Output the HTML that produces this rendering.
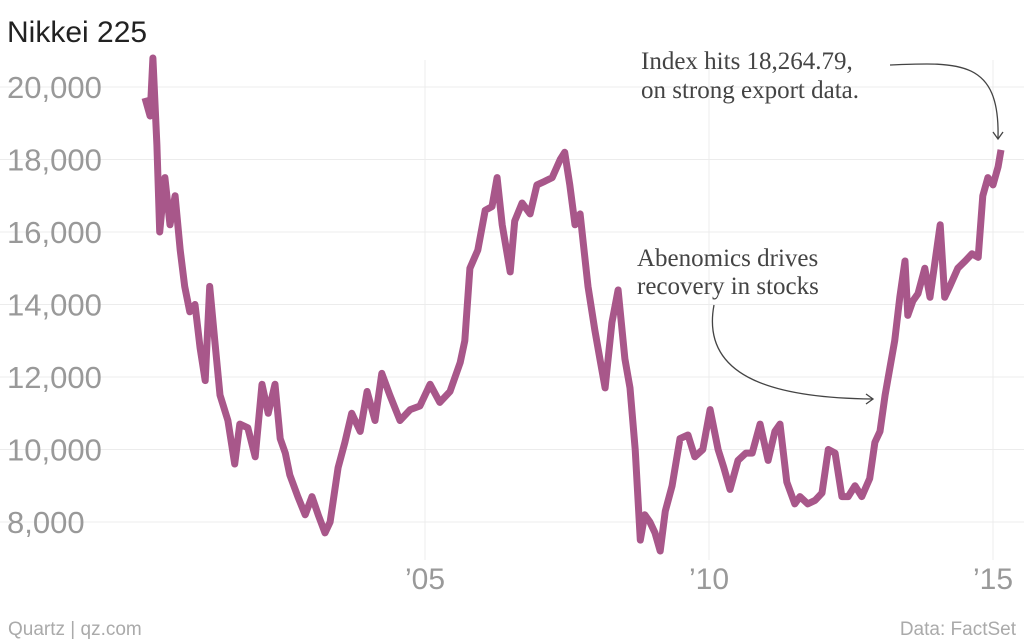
<!DOCTYPE html>
<html><head><meta charset="utf-8"><style>
body{margin:0;background:#fff;}
svg{display:block;}
</style></head><body>
<svg id="chart" width="1024" height="640" xmlns="http://www.w3.org/2000/svg">
<text x="7" y="42" font-family="Liberation Sans, sans-serif" font-size="30" fill="#222">Nikkei 225</text>
<g id="grid"></g>
<g id="yticks"></g>
<g id="xticks"></g>
<path id="line" fill="none" stroke="#a8578a" stroke-width="7" stroke-linejoin="round"/>
<g font-family="Liberation Serif, serif" font-size="25" fill="#444">
<text x="641" y="69">Index hits 18,264.79,</text>
<text x="641" y="98">on strong export data.</text>
<path d="M890 65 C 960 62, 1000 60, 998 138" fill="none" stroke="#444" stroke-width="1.3"/>
<path d="M993 132 L998 139 L1003 132" fill="none" stroke="#444" stroke-width="1.3"/>
</g>
<g font-family="Liberation Serif, serif" font-size="25" fill="#444">
<text x="637" y="266">Abenomics drives</text>
<text x="637" y="294">recovery in stocks</text>
<path d="M714 305 C 700 380, 780 398, 872 399" fill="none" stroke="#444" stroke-width="1.3"/>
<path d="M866 394 L873 399 L866 404" fill="none" stroke="#444" stroke-width="1.3"/>
</g>
<text x="8" y="635" font-family="Liberation Sans, sans-serif" font-size="19" fill="#aaa">Quartz | qz.com</text>
<text x="1016" y="635" text-anchor="end" font-family="Liberation Sans, sans-serif" font-size="19" fill="#aaa">Data: FactSet</text>
</svg>
<script>
const yTicks=[8000,10000,12000,14000,16000,18000,20000];
const yTickLabels=["8,000","10,000","12,000","14,000","16,000","18,000","20,000"];
const xTicks=[2005,2010,2015];
const xTickLabels=["’05","’10","’15"];
const years=[2000.07,2000.16,2000.21,2000.28,2000.33,2000.42,2000.51,2000.60,2000.69,2000.77,2000.86,2000.95,2001.04,2001.13,2001.21,2001.30,2001.39,2001.53,2001.65,2001.74,2001.88,2002.01,2002.13,2002.24,2002.36,2002.45,2002.54,2002.62,2002.76,2002.89,2003.01,2003.12,2003.24,2003.33,2003.47,2003.59,2003.71,2003.86,2003.98,2004.12,2004.24,2004.38,2004.56,2004.74,2004.91,2005.09,2005.26,2005.44,2005.62,2005.70,2005.79,2005.93,2006.06,2006.18,2006.27,2006.36,2006.50,2006.58,2006.71,2006.85,2006.97,2007.11,2007.24,2007.38,2007.46,2007.55,2007.64,2007.73,2007.87,2007.99,2008.08,2008.17,2008.29,2008.40,2008.52,2008.61,2008.70,2008.79,2008.87,2008.96,2009.05,2009.14,2009.23,2009.35,2009.49,2009.63,2009.75,2009.89,2010.02,2010.16,2010.26,2010.37,2010.51,2010.65,2010.76,2010.90,2011.04,2011.16,2011.25,2011.37,2011.51,2011.60,2011.74,2011.87,2011.99,2012.10,2012.22,2012.34,2012.45,2012.57,2012.69,2012.83,2012.92,2013.01,2013.10,2013.19,2013.27,2013.36,2013.45,2013.50,2013.59,2013.68,2013.80,2013.89,2013.98,2014.07,2014.15,2014.24,2014.38,2014.51,2014.63,2014.74,2014.82,2014.91,2015.00,2015.09,2015.14];
const values=[19700,19200,20800,18400,16000,17500,16200,17000,15500,14500,13800,14000,12800,11900,14500,13000,11500,10800,9600,10700,10600,9800,11800,11000,11800,10300,9900,9300,8700,8200,8700,8200,7700,8000,9500,10200,11000,10500,11600,10800,12100,11500,10800,11100,11200,11800,11300,11600,12400,13000,15000,15500,16600,16700,17500,16200,14900,16300,16800,16500,17300,17400,17500,18000,18200,17300,16200,16500,14500,13300,12500,11700,13500,14400,12500,11700,10000,7500,8200,8000,7700,7200,8300,9000,10300,10400,9800,10000,11100,10000,9500,8900,9700,9900,9900,10700,9700,10500,10700,9100,8500,8700,8500,8600,8800,10000,9900,8700,8700,9000,8700,9200,10200,10500,11500,12300,13000,14200,15200,13700,14100,14300,15000,14200,15200,16200,14200,14500,15000,15200,15400,15300,17000,17500,17300,17800,18264.79];
const xs=y=>141+(y-2000)*56.8;
const ys=v=>522-(v-8000)*0.03625;
const NS="http://www.w3.org/2000/svg";
const grid=document.getElementById('grid'),yg=document.getElementById('yticks'),xg=document.getElementById('xticks');
yTicks.forEach((t,i)=>{
  const l=document.createElementNS(NS,'line');
  l.setAttribute('x1',0);l.setAttribute('x2',1024);l.setAttribute('y1',ys(t));l.setAttribute('y2',ys(t));
  l.setAttribute('stroke','#ececec');l.setAttribute('stroke-width','1');
  
  
  grid.appendChild(l);
  const tx=document.createElementNS(NS,'text');
  tx.setAttribute('x',7);tx.setAttribute('y',ys(t)+11);
  tx.setAttribute('font-family','Liberation Sans, sans-serif');tx.setAttribute('font-size','31');tx.setAttribute('fill','#999');
  tx.textContent=yTickLabels[i];
  
  
  yg.appendChild(tx);
});
xTicks.forEach((t,i)=>{
  const l=document.createElementNS(NS,'line');
  l.setAttribute('x1',xs(t));l.setAttribute('x2',xs(t));l.setAttribute('y1',60);l.setAttribute('y2',560);
  l.setAttribute('stroke','#ececec');l.setAttribute('stroke-width','1');
  
  
  grid.appendChild(l);
  const tx=document.createElementNS(NS,'text');
  tx.setAttribute('x',xs(t));tx.setAttribute('y',589);tx.setAttribute('text-anchor','middle');
  tx.setAttribute('font-family','Liberation Sans, sans-serif');tx.setAttribute('font-size','30');tx.setAttribute('fill','#999');
  tx.textContent=xTickLabels[i];
  
  
  xg.appendChild(tx);
});
document.getElementById('line').setAttribute('d',years.map((y,i)=>(i?'L':'M')+xs(y).toFixed(1)+' '+ys(values[i]).toFixed(1)).join(' '));
</script>
</body></html>
